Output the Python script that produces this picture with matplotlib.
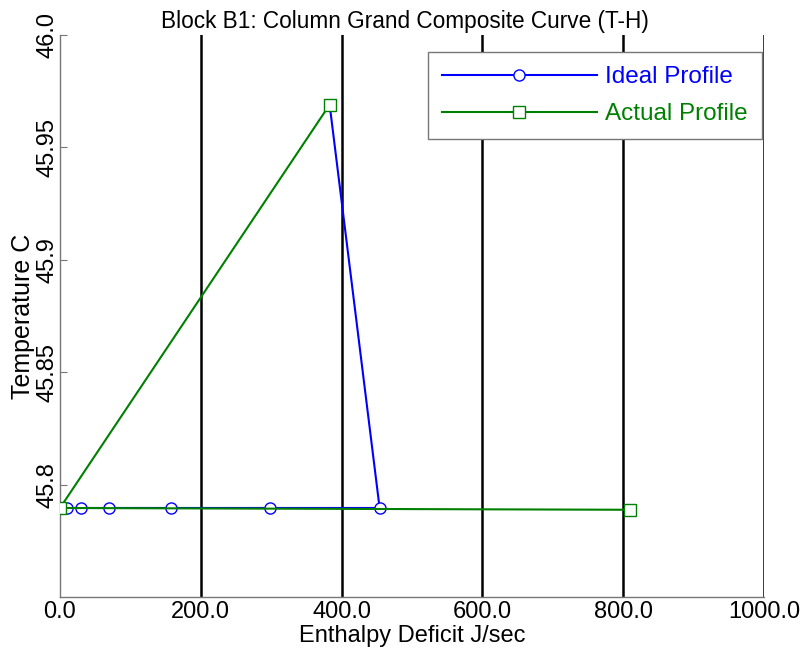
import numpy as np
import matplotlib
matplotlib.use("Agg")
import matplotlib.pyplot as plt

# Column grand composite curve for block B1
ideal_h = [383.0, 454.0, 298.0, 158.0, 70.0, 30.0, 10.0, 0.0]
ideal_t = [45.969, 45.7896, 45.7896, 45.7896, 45.7896, 45.7896, 45.7896, 45.7896]
actual_h = [383.0, 0.0, 809.0]
actual_t = [45.969, 45.7896, 45.7888]

x_ticks = [0, 200, 400, 600, 800, 1000]
x_labels = ["0.0", "200.0", "400.0", "600.0", "800.0", "1000.0"]
y_ticks = [45.8, 45.85, 45.9, 45.95, 46.0]
y_labels = ["45.8", "45.85", "45.9", "45.95", "46.0"]

plt.rcParams['font.family'] = ['Liberation Sans', 'DejaVu Sans']

fig = plt.figure(figsize=(8.03, 6.57), dpi=100)
ax = fig.add_axes([60 / 803, 1 - 597 / 657, 704 / 803, 562 / 657])

blue = '#0000ff'
green = '#008000'
ax.plot(ideal_h, ideal_t, color=blue, lw=1.5, marker='o', ms=8,
        mfc='white', mec=blue, mew=1.0, label='Ideal Profile', zorder=3)
ax.plot(actual_h, actual_t, color=green, lw=1.5, marker='s', ms=8.2,
        mfc='white', mec=green, mew=1.0, label='Actual Profile', zorder=4)

ax.set_xlim(0, 1000)
ax.set_ylim(45.75, 46.0)

# vertical grid only
for xv in x_ticks[1:]:
    ax.axvline(xv, color='black', lw=1.8, zorder=1)

ax.set_xticks(x_ticks)
ax.set_xticklabels(x_labels, fontsize=17)
ax.set_yticks(y_ticks)
ax.set_yticklabels(y_labels, fontsize=17, rotation=90, va='center')
ax.tick_params(axis='x', length=0, pad=3)
ax.tick_params(axis='y', direction='in', length=5, color='#777777', pad=1)

for side in ['top', 'right']:
    ax.spines[side].set_visible(False)
for side in ['left', 'bottom']:
    ax.spines[side].set_color('#777777')
    ax.spines[side].set_linewidth(1.0)

ax.set_title('Block B1: Column Grand Composite Curve (T-H)', fontsize=16.3, pad=5,
             x=0.49)
ax.set_xlabel('Enthalpy Deficit J/sec', fontsize=17, labelpad=1)
ax.set_ylabel('Temperature C', fontsize=18, labelpad=1)

leg = ax.legend(loc='upper right', bbox_to_anchor=(1.0 - 2 / 704, 1 - 17 / 562),
                fontsize=17.5, fancybox=False, framealpha=1, edgecolor='#777777',
                handlelength=6.4, handletextpad=0.33, borderpad=0.58,
                labelspacing=0.62, borderaxespad=0.0)
leg.get_frame().set_linewidth(1.0)
for txt, col in zip(leg.get_texts(), [blue, green]):
    txt.set_color(col)

fig.savefig('out.png', dpi=100)
